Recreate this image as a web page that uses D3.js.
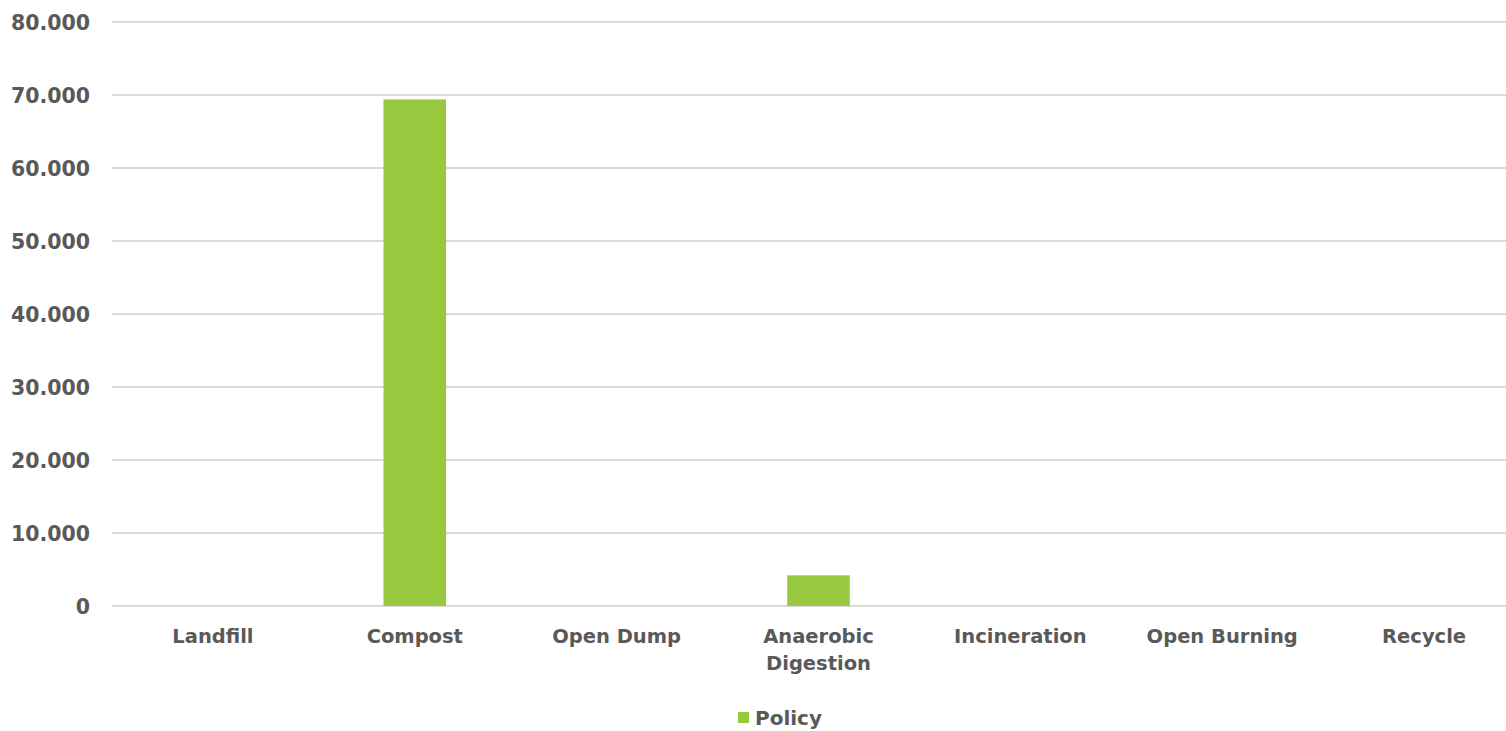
<!DOCTYPE html>
<html>
<head>
<meta charset="utf-8">
<script src="https://cdn.jsdelivr.net/npm/d3@7"></script>
<style>
  html, body { margin: 0; padding: 0; background: #fff; }
  svg { display: block; }
  text { font-family: "DejaVu Sans", sans-serif; font-weight: bold; fill: #595959; }
</style>
</head>
<body>
<svg id="chart" width="1506" height="731"></svg>
<script>
// Waste treatment pathways and their policy values
const categories = [["Landfill"], ["Compost"], ["Open Dump"], ["Anaerobic", "Digestion"], ["Incineration"], ["Open Burning"], ["Recycle"]];
const policyValues = [0, 69.4, 0, 4.2, 0, 0, 0];
const yTicks = [0, 10, 20, 30, 40, 50, 60, 70, 80];
const seriesName = "Policy";

const svg = d3.select("#chart");
const margin = { left: 112, right: -19, top: 22, bottom: 125 };
const W = 1506, H = 731;

const x = d3.scaleBand()
  .domain(d3.range(categories.length))
  .range([margin.left, W - margin.right])
  .paddingInner(0.69).paddingOuter(0.345);

const y = d3.scaleLinear().domain([0, 80]).range([H - margin.bottom, margin.top]);

// gridlines
svg.append("g").selectAll("line").data(yTicks).join("line")
  .attr("x1", margin.left).attr("x2", W)
  .attr("y1", d => y(d)).attr("y2", d => y(d))
  .attr("stroke", "#d9d9d9").attr("stroke-width", 2);

// y axis labels
const yAxis = d3.axisLeft(y).tickValues(yTicks).tickSize(0).tickPadding(22)
  .tickFormat(d => d === 0 ? "0" : d3.format(".3f")(d));
svg.append("g").attr("transform", `translate(${margin.left},0)`).call(yAxis)
  .call(g => g.select(".domain").remove())
  .call(g => g.selectAll("text").attr("font-size", 20.5).style("font-family", null).attr("dy", "0.35em"));

// bars
svg.append("g").selectAll("rect").data(policyValues).join("rect")
  .attr("x", (d, i) => x(i))
  .attr("width", x.bandwidth())
  .attr("y", d => y(d))
  .attr("height", d => y(0) - y(d))
  .attr("fill", "#97c83e");

// category labels
const band = d3.scaleBand().domain(d3.range(categories.length)).range([margin.left, W - margin.right]);
const labels = svg.append("g").selectAll("text").data(categories).join("text")
  .attr("x", (d, i) => band(i) + band.bandwidth() / 2)
  .attr("y", y(0) + 37)
  .attr("text-anchor", "middle")
  .attr("font-size", 19.5);
labels.selectAll("tspan").data(d => d).join("tspan")
  .attr("x", function () { return d3.select(this.parentNode).attr("x"); })
  .attr("dy", (d, i) => i === 0 ? 0 : 27)
  .text(d => d);

// legend
const legend = svg.append("g").attr("transform", "translate(738,712)");
legend.append("rect").attr("width", 11).attr("height", 11).attr("fill", "#97c83e");
legend.append("text").attr("x", 17).attr("y", 6).attr("dy", "0.35em").attr("font-size", 20).text(seriesName);
</script>
</body>
</html>
